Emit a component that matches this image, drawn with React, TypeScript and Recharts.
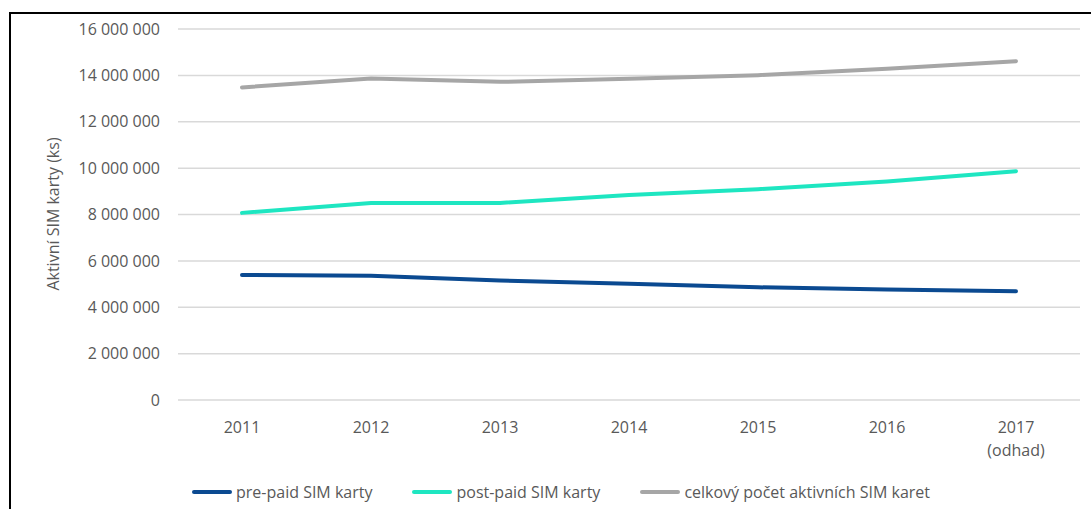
import { CartesianGrid, Line, LineChart, XAxis, YAxis } from "recharts";

const roky = ["2011", "2012", "2013", "2014", "2015", "2016", "2017\n(odhad)"];
const prepaid = [5390000, 5360000, 5150000, 5010000, 4860000, 4770000, 4690000];
const postpaid = [8070000, 8500000, 8500000, 8840000, 9090000, 9420000, 9870000];
const celkem = [13480000, 13870000, 13720000, 13850000, 14010000, 14290000, 14610000];
const yTicks = [0, 2000000, 4000000, 6000000, 8000000, 10000000, 12000000, 14000000, 16000000];

const serie = [
  { key: "prepaid", name: "pre-paid SIM karty", color: "#0b4a91" },
  { key: "postpaid", name: "post-paid SIM karty", color: "#1ee6c1" },
  { key: "celkem", name: "celkový počet aktivních SIM karet", color: "#a6a6a6" },
];

const dados = roky.map((rok, i) => ({
  rok,
  prepaid: prepaid[i],
  postpaid: postpaid[i],
  celkem: celkem[i],
}));

const FONT = "'Open Sans', sans-serif";
const TEXT = "#595959";

const formatTis = (v: number) =>
  v.toString().replace(/\B(?=(\d{3})+(?!\d))/g, " ");

function RokTick(props: any) {
  const { x, y, payload } = props;
  const radky = String(payload.value).split("\n");
  return (
    <text
      x={x}
      y={y}
      textAnchor="middle"
      fill={TEXT}
      fontSize={16}
      fontFamily={FONT}
    >
      {radky.map((r, i) => (
        <tspan key={i} x={x} dy={i === 0 ? 33 : 23}>
          {r}
        </tspan>
      ))}
    </text>
  );
}

export default function App() {
  return (
    <div
      style={{
        position: "absolute",
        left: 0,
        top: 0,
        width: 1091,
        height: 509,
        overflow: "hidden",
        background: "#fff",
      }}
    >
      <div
        style={{
          position: "absolute",
          left: 9,
          top: 12,
          width: 1082,
          height: 497,
          borderTop: "2px solid #000",
          borderLeft: "2px solid #000",
          boxSizing: "border-box",
        }}
      />
      <div style={{ position: "absolute", left: 0, top: 0 }}>
        <LineChart
          width={1091}
          height={509}
          data={dados}
          margin={{ top: 29, right: 11, bottom: 0, left: 0 }}
        >
          <CartesianGrid vertical={false} stroke="#d9d9d9" strokeWidth={1.5} />
          <XAxis
            dataKey="rok"
            height={109}
            axisLine={false}
            tickLine={false}
            tickSize={0}
            tickMargin={0}
            interval={0}
            padding={{ left: 64, right: 64 }}
            tick={<RokTick />}
          />
          <YAxis
            width={178}
            domain={[0, 16000000]}
            ticks={yTicks}
            axisLine={false}
            tickLine={false}
            tickSize={0}
            tickMargin={18}
            tickFormatter={formatTis}
            tick={{ fill: TEXT, fontSize: 16, fontFamily: FONT }}
            label={{
              content: () => (
                <text
                  x={53}
                  y={214}
                  transform="rotate(-90, 53, 214)"
                  textAnchor="middle"
                  dominantBaseline="central"
                  fill={TEXT}
                  fontSize={16}
                  fontFamily={FONT}
                >
                  Aktivní SIM karty (ks)
                </text>
              ),
            }}
          />
          {serie.map((s) => (
            <Line
              key={s.key}
              type="linear"
              dataKey={s.key}
              name={s.name}
              stroke={s.color}
              strokeWidth={4}
              strokeLinecap="round"
              dot={false}
              activeDot={false}
              isAnimationActive={false}
            />
          ))}
        </LineChart>
      </div>
      <div
        style={{
          position: "absolute",
          left: 192,
          top: 480,
          height: 24,
          display: "flex",
          alignItems: "center",
          gap: 40,
          fontFamily: FONT,
          fontSize: 16,
          color: TEXT,
        }}
      >
        {serie.map((s) => (
          <div key={s.key} style={{ display: "flex", alignItems: "center" }}>
            <span
              style={{
                display: "inline-block",
                width: 40,
                height: 4,
                borderRadius: 2,
                background: s.color,
                marginRight: 4,
              }}
            />
            <span>{s.name}</span>
          </div>
        ))}
      </div>
    </div>
  );
}
